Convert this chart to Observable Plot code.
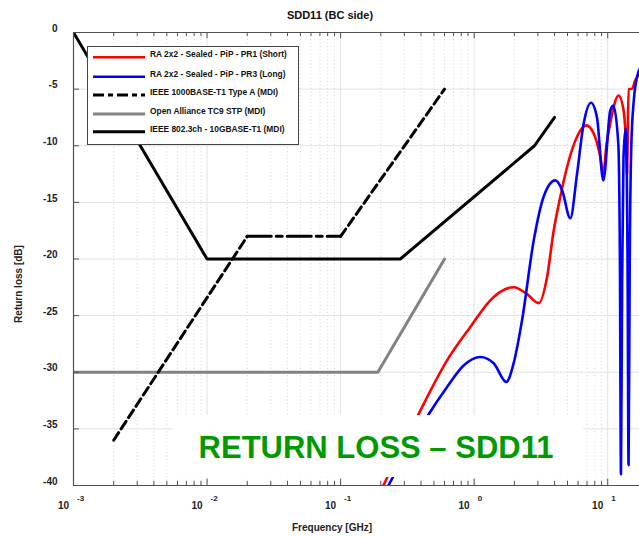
<!DOCTYPE html>
<html>
<head>
<meta charset="utf-8">
<script src="https://cdn.jsdelivr.net/npm/d3@7"></script>
<script src="https://cdn.jsdelivr.net/npm/@observablehq/plot@0.6"></script>
<style>
  html, body { margin: 0; padding: 0; background: #fff; }
  svg { display: block; }
</style>
</head>
<body>
<div id="chart"></div>
<script>
// ---------------- data ----------------
const chartTitle = "SDD11 (BC side)";
const xLabel = "Frequency [GHz]";
const yLabel = "Return loss [dB]";
const bannerText = "RETURN LOSS \u2013 SDD11";

const seriesNames = [
  "RA 2x2 - Sealed - PiP - PR1 (Short)",
  "RA 2x2 - Sealed - PiP - PR3 (Long)",
  "IEEE 1000BASE-T1 Type A (MDI)",
  "Open Alliance TC9 STP (MDI)",
  "IEEE 802.3ch - 10GBASE-T1 (MDI)"
];

// PR1 (Short) measurement, red
const pr1Freq = [0.209, 0.374, 0.627, 0.937, 1.322, 1.571, 1.976, 2.489, 3.04, 3.514, 3.939, 4.418, 4.958, 5.891, 6.915, 7.838, 8.806, 9.27, 9.77, 10.45, 12.07, 13.15, 13.71, 13.94, 14.33, 15.2, 16.1, 16.94, 17.8];
const pr1Db   = [-40, -33.95, -28.95, -26.0, -23.65, -22.9, -22.5, -23.1, -23.9, -21.6, -17.5, -14.5, -11.9, -9.2, -8.2, -8.9, -11.0, -12.5, -10.0, -8.0, -5.56, -6.9, -10.0, -12.6, -5.0, -4.97, -4.2, -3.8, -3.3];

// PR3 (Long) measurement, blue
const pr3Freq = [0.228, 0.443, 0.627, 0.834, 1.112, 1.40, 1.742, 1.976, 2.284, 2.789, 3.313, 4.054, 4.55, 5.249, 5.891, 6.603, 7.499, 8.312, 9.27, 10.45, 11.02, 12.0, 12.34, 12.57, 12.82, 13.13, 13.71, 14.07, 14.33, 14.62, 15.02, 15.68, 16.56, 17.8];
const pr3Db   = [-40, -33.95, -31.3, -29.4, -28.65, -29.2, -30.86, -29.2, -25.4, -18.4, -14.5, -13.06, -13.9, -16.4, -12.5, -8.06, -6.2, -7.5, -13.06, -6.9, -6.44, -9.8, -20, -39, -22, -11, -8.5, -20, -38.2, -20, -10, -6, -3.94, -3.0];

// IEEE 1000BASE-T1 Type A limit
const t1Freq = [0.002, 0.02, 0.1, 0.6];
const t1Db   = [-36, -18, -18, -5];

// Open Alliance TC9 STP limit
const tc9Freq = [0.001, 0.19, 0.6];
const tc9Db   = [-30, -30, -20];

// IEEE 802.3ch 10GBASE-T1 limit
const chFreq = [0.001, 0.01, 0.28, 2.83, 4.0];
const chDb   = [0, -20, -20, -10, -7.5];

// axis ticks
const xDecades = [-3, -2, -1, 0, 1];
const yTicks = [0, -5, -10, -15, -20, -25, -30, -35, -40];

// ---------------- build ----------------
const fMin = 1e-3, fMax = 17.3;
const majorX = xDecades.map(e => Math.pow(10, e));
const minorX = [];
for (const e of xDecades) for (let m = 2; m <= 9; m++) {
  const v = m * Math.pow(10, e);
  if (v <= fMax) minorX.push(v);
}
const zip = (fs, ds) => fs.map((f, i) => ({f, db: ds[i]}));
const pr1 = zip(pr1Freq, pr1Db);
const pr3 = zip(pr3Freq, pr3Db);
const t1 = zip(t1Freq, t1Db);
const tc9 = zip(tc9Freq, tc9Db);
const ch = zip(chFreq, chDb);

const FONT = "'Liberation Sans', Arial, Helvetica, sans-serif";
const axisColor = "#505050";
const gridColor = "#e2e2e2";
const tickEnd = fMin * Math.pow(10, 6 / 133.6);

const chart = Plot.plot({
  width: 639,
  height: 537,
  marginLeft: 73,
  marginRight: 0,
  marginTop: 32,
  marginBottom: 52,
  style: {fontFamily: FONT, background: "#fff", color: "#000"},
  x: {type: "log", domain: [fMin, fMax], axis: null},
  y: {domain: [-40, 0], axis: null},
  marks: [
    // grid
    Plot.ruleX(minorX, {stroke: "#cdcdcd", strokeWidth: 0.8, strokeDasharray: "1,2.5"}),
    Plot.ruleX(majorX, {stroke: gridColor, strokeWidth: 1}),
    Plot.ruleY(yTicks, {stroke: gridColor, strokeWidth: 1}),
    // limit lines
    Plot.line(tc9, {x: "f", y: "db", stroke: "#828282", strokeWidth: 3, clip: true}),
    Plot.line(t1.slice(0, 2), {x: "f", y: "db", stroke: "#000", strokeWidth: 3, strokeDasharray: "9,4.5", clip: true}),
    Plot.line(t1.slice(1, 3), {x: "f", y: "db", stroke: "#000", strokeWidth: 3, strokeDasharray: "24,5,6,5", clip: true}),
    Plot.line(t1.slice(2, 4), {x: "f", y: "db", stroke: "#000", strokeWidth: 3, strokeDasharray: "9,4.5", clip: true}),
    Plot.line(ch, {x: "f", y: "db", stroke: "#000", strokeWidth: 3, strokeLinejoin: "miter", clip: true}),
    // measurements
    Plot.line(pr1, {x: "f", y: "db", stroke: "#ff0000", strokeWidth: 2.6, curve: "monotone-x", clip: true}),
    Plot.line(pr3, {x: "f", y: "db", stroke: "#0000ff", strokeWidth: 2.6, curve: "monotone-x", clip: true}),
    // frame
    Plot.ruleY([-40], {stroke: axisColor, strokeWidth: 1.2}),
    Plot.ruleY([0], {stroke: axisColor, strokeWidth: 1.2}),
    Plot.ruleX([fMin], {stroke: axisColor, strokeWidth: 1.2}),
    // inward ticks
    Plot.ruleX(majorX, {y1: -40, y2: -39.45, stroke: axisColor, strokeWidth: 1}),
    Plot.ruleX(minorX, {y1: -40, y2: -39.65, stroke: axisColor, strokeWidth: 1}),
    Plot.ruleX(majorX, {y1: 0, y2: -0.55, stroke: axisColor, strokeWidth: 1}),
    Plot.ruleX(minorX, {y1: 0, y2: -0.35, stroke: axisColor, strokeWidth: 1}),
    Plot.ruleY(yTicks, {y: d => d, x1: fMin, x2: tickEnd, stroke: axisColor, strokeWidth: 1}),
    // y tick labels
    Plot.text(yTicks, {y: d => d, text: d => String(d), frameAnchor: "left", textAnchor: "end", dx: -16, dy: -4, fontSize: 10, fontWeight: "bold", fill: "#222"}),
    // x tick labels (10 with exponent)
    Plot.text(majorX, {x: d => d, text: () => "10", frameAnchor: "bottom", textAnchor: "end", dx: -4.5, dy: 23, fontSize: 10, fontWeight: "bold", fill: "#222"}),
    Plot.text(xDecades, {x: e => Math.pow(10, e), text: e => String(e), frameAnchor: "bottom", textAnchor: "start", dx: 3.5, dy: 15, fontSize: 8, fontWeight: "bold", fill: "#222"})
  ]
});

document.getElementById("chart").appendChild(chart);

// ---------------- annotations ----------------
const svg = d3.select(chart);

svg.append("text").attr("x", 330).attr("y", 19).attr("text-anchor", "middle")
  .attr("font-family", FONT).attr("font-size", 11).attr("font-weight", "bold").attr("fill", "#111")
  .text(chartTitle);

svg.append("text").attr("x", 332).attr("y", 531).attr("text-anchor", "middle")
  .attr("font-family", FONT).attr("font-size", 10).attr("font-weight", "bold").attr("fill", "#222")
  .text(xLabel);

svg.append("text").attr("transform", "translate(22,284) rotate(-90)").attr("text-anchor", "middle")
  .attr("font-family", FONT).attr("font-size", 10).attr("font-weight", "bold").attr("fill", "#222")
  .text(yLabel);

// legend
const legendStyles = [
  {stroke: "#ff0000", width: 2.6, dash: null},
  {stroke: "#0000ff", width: 2.6, dash: null},
  {stroke: "#000", width: 3, dash: "11,4,5,4"},
  {stroke: "#828282", width: 3, dash: null},
  {stroke: "#000", width: 3, dash: null}
];
const legendRowY = [57.3, 76.7, 95, 114, 131.7];
const lg = svg.append("g").attr("text-anchor", "start");
lg.append("rect").attr("x", 87.5).attr("y", 46.5).attr("width", 211).attr("height", 98)
  .attr("fill", "#fff").attr("stroke", "#444").attr("stroke-width", 1);
seriesNames.forEach((name, i) => {
  const s = legendStyles[i], y = legendRowY[i];
  const ln = lg.append("line").attr("x1", 93).attr("x2", 145).attr("y1", y).attr("y2", y)
    .attr("stroke", s.stroke).attr("stroke-width", s.width);
  if (s.dash) ln.attr("stroke-dasharray", s.dash);
  lg.append("text").attr("x", 150).attr("y", y).attr("text-anchor", "start")
    .attr("font-family", FONT).attr("font-size", 8.4)
    .attr("font-weight", "bold").attr("fill", "#111").text(name);
});

// banner
const bn = svg.append("g");
bn.append("rect").attr("x", 173).attr("y", 415).attr("width", 410).attr("height", 62).attr("fill", "#fff");
bn.append("text").attr("x", 376).attr("y", 458).attr("text-anchor", "middle")
  .attr("font-family", FONT).attr("font-size", 31).attr("font-weight", "bold").attr("fill", "#009a00")
  .text(bannerText);
</script>
</body>
</html>
